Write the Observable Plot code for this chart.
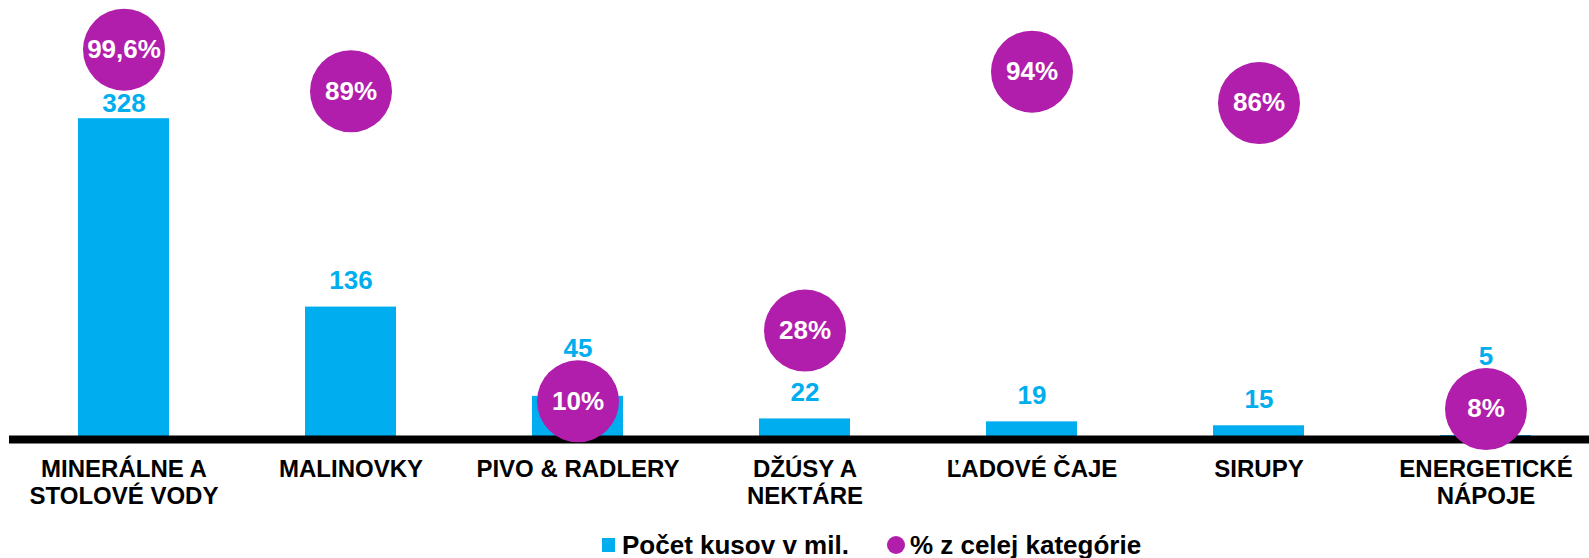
<!DOCTYPE html>
<html>
<head>
<meta charset="utf-8">
<script src="https://cdn.jsdelivr.net/npm/d3@7"></script>
<script src="https://cdn.jsdelivr.net/npm/@observablehq/plot@0.6"></script>
<style>
  html, body { margin: 0; padding: 0; background: #fff; }
  body { width: 1589px; height: 558px; overflow: hidden; font-family: "Liberation Sans", Arial, sans-serif; }
  #legend { display: flex; align-items: center; padding-left: 602px; padding-top: 12px; height: 26px;
            font-size: 26px; font-weight: bold; line-height: 1; color: #000; }
  .sq { width: 13px; height: 14px; background: #00AEEF; margin-right: 7px; }
  .ci { width: 18px; height: 18px; border-radius: 50%; background: #B01EAB; margin-left: 38px; margin-right: 5px; }
</style>
</head>
<body>
<div id="chart"></div>
<div id="legend">
  <span class="sq"></span><span>Počet kusov v mil.</span>
  <span class="ci"></span><span>% z celej kategórie</span>
</div>
<script>
const categories = [
  "MINERÁLNE A\nSTOLOVÉ VODY",
  "MALINOVKY",
  "PIVO & RADLERY",
  "DŽÚSY A\nNEKTÁRE",
  "ĽADOVÉ ČAJE",
  "SIRUPY",
  "ENERGETICKÉ\nNÁPOJE"
];
const units = [328, 136, 45, 22, 19, 15, 5];          // Počet kusov v mil.
const shares = [99.6, 89, 10, 28, 94, 86, 8];          // % z celej kategórie

// secondary axis: 100 % corresponds to 400 units on the primary axis
const PCT_RATIO = 4;
const yDomain = [0, 448.5];
const yRange = [440, 0];
const yPx = d3.scaleLinear(yDomain, yRange);
const R = 41;
const CAP = 18;

const data = categories.map((c, i) => {
  const value = units[i];
  const pct = shares[i];
  const pctY = pct * PCT_RATIO;
  const barTop = yPx(value);
  const c0 = yPx(pctY);
  let base = barTop - 18;
  const overlaps = (base - CAP) < c0 + R && base > c0 - R;
  if (overlaps) {
    if (c0 > base - CAP / 2) base = c0 - R - 3;
    else base = Math.min(barTop - 6, c0 + R + CAP + 3);
  }
  return {
    cat: c, value, pct, pctY,
    labelY: yPx.invert(base),
    pctLabel: String(pct).replace(".", ",") + "%"
  };
});

const font = "'Liberation Sans', Arial, sans-serif";

const chart = Plot.plot({
  width: 1589,
  height: 520,
  marginLeft: 9,
  marginRight: 0,
  marginTop: 0,
  marginBottom: 80,
  style: { fontFamily: font, background: "#fff" },
  x: { type: "band", domain: categories, range: [9.5, 1598.5], paddingInner: 0.6, paddingOuter: 0.3, axis: null },
  y: { domain: yDomain, range: yRange, axis: null },
  marks: [
    Plot.barY(data, { x: "cat", y: "value", fill: "#00AEEF" }),
    Plot.ruleY([0], { stroke: "#000", strokeWidth: 8, dy: -1 }),
    Plot.text(data, { x: "cat", y: "labelY", text: d => String(d.value), fill: "#00AEEF",
      fontWeight: "bold", fontSize: 26, lineAnchor: "bottom" }),
    Plot.dot(data, { x: "cat", y: "pctY", r: R, fill: "#B01EAB", stroke: null }),
    Plot.text(data, { x: "cat", y: "pctY", text: "pctLabel", fill: "#fff",
      fontWeight: "bold", fontSize: 26, lineAnchor: "middle" }),
    Plot.text(data, { x: "cat", y: d => 0, text: "cat", fill: "#000", fontWeight: "bold",
      fontSize: 24, lineAnchor: "top", dy: 18, lineHeight: 1.11 })
  ]
});
document.getElementById("chart").appendChild(chart);
</script>
</body>
</html>
